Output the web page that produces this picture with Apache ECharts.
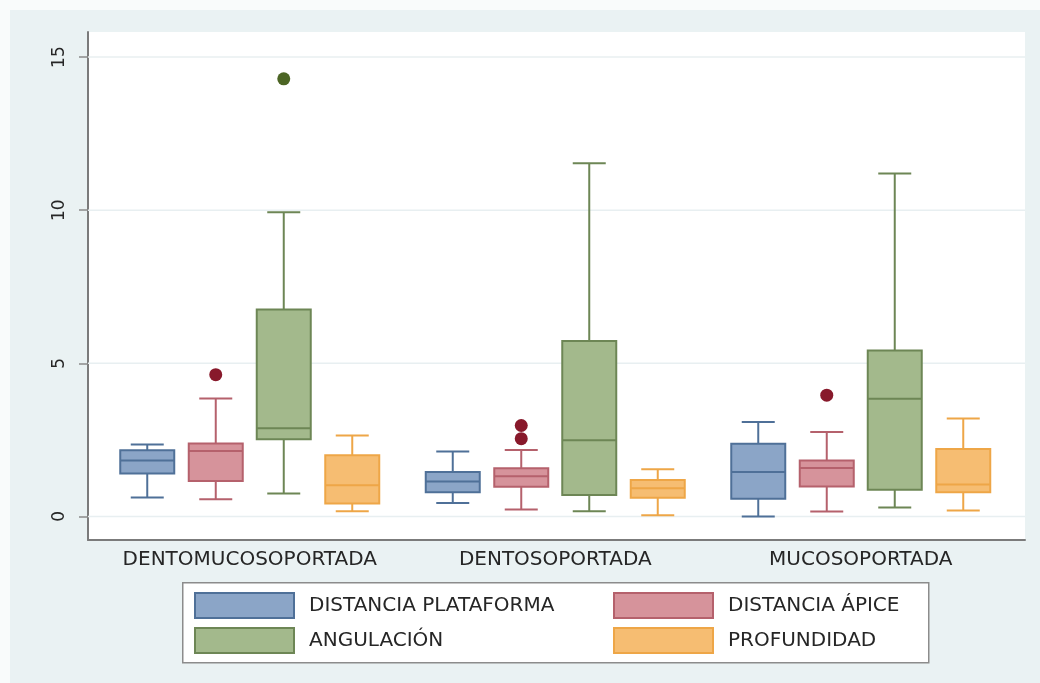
<!DOCTYPE html>
<html>
<head>
<meta charset="utf-8">
<script src="https://cdn.jsdelivr.net/npm/echarts@6/dist/echarts.min.js"></script>
<style>
  html, body { margin: 0; padding: 0; background: #f9fbfb; }
  #bg { position: absolute; left: 10px; top: 10px; width: 1030px; height: 673px; background: #eaf2f3; }
  #chart { position: absolute; left: 0; top: 0; width: 1040px; height: 683px; }
</style>
</head>
<body>
<div id="bg"></div>
<div id="chart"></div>
<script>
// ---- data ----
const categories = ['DENTOMUCOSOPORTADA', 'DENTOSOPORTADA', 'MUCOSOPORTADA'];
const seriesNames = ['DISTANCIA PLATAFORMA', 'DISTANCIA ÁPICE', 'ANGULACIÓN', 'PROFUNDIDAD'];
// each row: [lower whisker, Q1, median, Q3, upper whisker], one row per category
const distPlataforma = [
  [0.62, 1.40, 1.83, 2.16, 2.35],
  [0.44, 0.79, 1.14, 1.45, 2.12],
  [0.00, 0.58, 1.45, 2.37, 3.08]
];
const distApice = [
  [0.56, 1.16, 2.14, 2.38, 3.85],
  [0.23, 0.97, 1.31, 1.57, 2.17],
  [0.16, 0.98, 1.58, 1.83, 2.76]
];
const angulacion = [
  [0.75, 2.52, 2.88, 6.76, 9.93],
  [0.17, 0.70, 2.49, 5.73, 11.53],
  [0.29, 0.87, 3.84, 5.42, 11.20]
];
const profundidad = [
  [0.17, 0.42, 1.02, 2.00, 2.64],
  [0.04, 0.61, 0.92, 1.19, 1.54],
  [0.19, 0.79, 1.04, 2.20, 3.20]
];
// outliers: [category index, value]
const apiceOutliers = [[0, 4.63], [1, 2.54], [1, 2.97], [2, 3.96]];
const angulacionOutliers = [[0, 14.29]];
const yTicks = [0, 5, 10, 15];

// ---- styling / layout ----
const FONT = 'DejaVu Sans';
const BOX_W = 54, CAP_W = 33;
const offsets = [-102.5, -34, 34, 102.5];
const styles = [
  { fill: '#8ba5c7', stroke: '#4f7098' },
  { fill: '#d6939b', stroke: '#b5616c' },
  { fill: '#a3b98c', stroke: '#6d8655' },
  { fill: '#f6bd72', stroke: '#eea647' }
];
const outlierColors = { apice: '#88192b', angulacion: '#4c6524' };

function boxRenderer(offset, st) {
  return function (params, api) {
    const cat = api.value(0);
    const lo = api.coord([cat, api.value(1)]);
    const q1 = api.coord([cat, api.value(2)]);
    const md = api.coord([cat, api.value(3)]);
    const q3 = api.coord([cat, api.value(4)]);
    const hi = api.coord([cat, api.value(5)]);
    const x = lo[0] + offset;
    const lineStyle = { stroke: st.stroke, lineWidth: 2 };
    return {
      type: 'group',
      children: [
        { type: 'line', shape: { x1: x, y1: hi[1], x2: x, y2: q3[1] }, style: lineStyle },
        { type: 'line', shape: { x1: x, y1: q1[1], x2: x, y2: lo[1] }, style: lineStyle },
        { type: 'line', shape: { x1: x - CAP_W / 2, y1: hi[1], x2: x + CAP_W / 2, y2: hi[1] }, style: lineStyle },
        { type: 'line', shape: { x1: x - CAP_W / 2, y1: lo[1], x2: x + CAP_W / 2, y2: lo[1] }, style: lineStyle },
        { type: 'rect', shape: { x: x - BOX_W / 2, y: q3[1], width: BOX_W, height: q1[1] - q3[1] },
          style: { fill: st.fill, stroke: st.stroke, lineWidth: 2 } },
        { type: 'line', shape: { x1: x - BOX_W / 2, y1: md[1], x2: x + BOX_W / 2, y2: md[1] }, style: lineStyle }
      ]
    };
  };
}

const allData = [distPlataforma, distApice, angulacion, profundidad];
const boxSeries = allData.map(function (rows, i) {
  return {
    name: seriesNames[i],
    type: 'custom',
    xAxisIndex: 0, yAxisIndex: 0,
    z: 3,
    itemStyle: { color: styles[i].fill, borderColor: styles[i].stroke },
    encode: { x: 0, y: [1, 2, 3, 4, 5] },
    data: rows.map(function (r, c) { return [c].concat(r); }),
    renderItem: boxRenderer(offsets[i], styles[i]),
    silent: true
  };
});

const legendText = { fontFamily: FONT, fontSize: 20, color: '#262626', padding: [0, 0, 0, 10] };
function legendItem(i) {
  return { name: seriesNames[i], itemStyle: { color: styles[i].fill, borderColor: styles[i].stroke, borderWidth: 2 } };
}

const chart = echarts.init(document.getElementById('chart'), null, { renderer: 'canvas' });
chart.setOption({
  backgroundColor: 'transparent',
  animation: false,
  grid: [
    { left: 97, right: 26.5, top: 32, bottom: 143 },
    { left: 88, right: 15, top: 32, bottom: 143, show: true, backgroundColor: '#ffffff', borderWidth: 0 }
  ],
  xAxis: [
    { gridIndex: 0, type: 'category', data: categories,
      axisLine: { show: false }, axisTick: { show: false }, splitLine: { show: false },
      axisLabel: { interval: 0, hideOverlap: false, fontFamily: FONT, fontSize: 20, color: '#262626', margin: 10 } },
    { gridIndex: 1, type: 'value', min: 0, max: 1,
      axisLine: { show: true, onZero: false, lineStyle: { color: '#7b7b7b', width: 2 } },
      axisTick: { show: false }, axisLabel: { show: false }, splitLine: { show: false } }
  ],
  yAxis: [
    { gridIndex: 0, type: 'value', min: -0.77, max: 15.82, show: false, splitLine: { show: false } },
    { gridIndex: 1, type: 'value', min: -0.77, max: 15.82,
      axisLine: { show: true, onZero: false, lineStyle: { color: '#7b7b7b', width: 2 } },
      axisTick: { show: true, customValues: yTicks, length: 9, lineStyle: { color: '#8a8a8a', width: 1.5 } },
      axisLabel: { customValues: yTicks, rotate: 90, fontFamily: FONT, fontSize: 17, color: '#262626', margin: 20 },
      splitLine: { show: false } }
  ],
  legend: [
    { data: [legendItem(0), legendItem(2)], orient: 'vertical', left: 194, top: 592,
      itemWidth: 99, itemHeight: 25, itemGap: 8, padding: 0, icon: 'rect',
      selectedMode: false, textStyle: legendText },
    { data: [legendItem(1), legendItem(3)], orient: 'vertical', left: 613, top: 592,
      itemWidth: 99, itemHeight: 25, itemGap: 8, padding: 0, icon: 'rect',
      selectedMode: false, textStyle: legendText }
  ],
  graphic: [
    { type: 'rect', left: 182, top: 582, shape: { width: 746, height: 80 },
      style: { fill: '#ffffff', stroke: '#8c8c8c', lineWidth: 1.5 }, z: 0 }
  ],
  series: [
    {
      name: 'gridlines', type: 'custom', xAxisIndex: 1, yAxisIndex: 1, z: 1, silent: true,
      data: yTicks.map(function (v) { return [0, v]; }),
      encode: { x: 0, y: 1 },
      renderItem: function (params, api) {
        const cs = params.coordSys;
        const y = api.coord([0, api.value(1)])[1];
        return { type: 'line', shape: { x1: cs.x, y1: y, x2: cs.x + cs.width, y2: y },
          style: { stroke: '#e8eff1', lineWidth: 1.5 } };
      }
    }
  ].concat(boxSeries).concat([
    { name: seriesNames[1], type: 'scatter', xAxisIndex: 0, yAxisIndex: 0, z: 4, silent: true,
      symbol: 'circle', symbolSize: 13, symbolOffset: [offsets[1], 0],
      itemStyle: { color: outlierColors.apice, opacity: 1 }, data: apiceOutliers },
    { name: seriesNames[2], type: 'scatter', xAxisIndex: 0, yAxisIndex: 0, z: 4, silent: true,
      symbol: 'circle', symbolSize: 13, symbolOffset: [offsets[2], 0],
      itemStyle: { color: outlierColors.angulacion, opacity: 1 }, data: angulacionOutliers }
  ])
});
</script>
</body>
</html>
